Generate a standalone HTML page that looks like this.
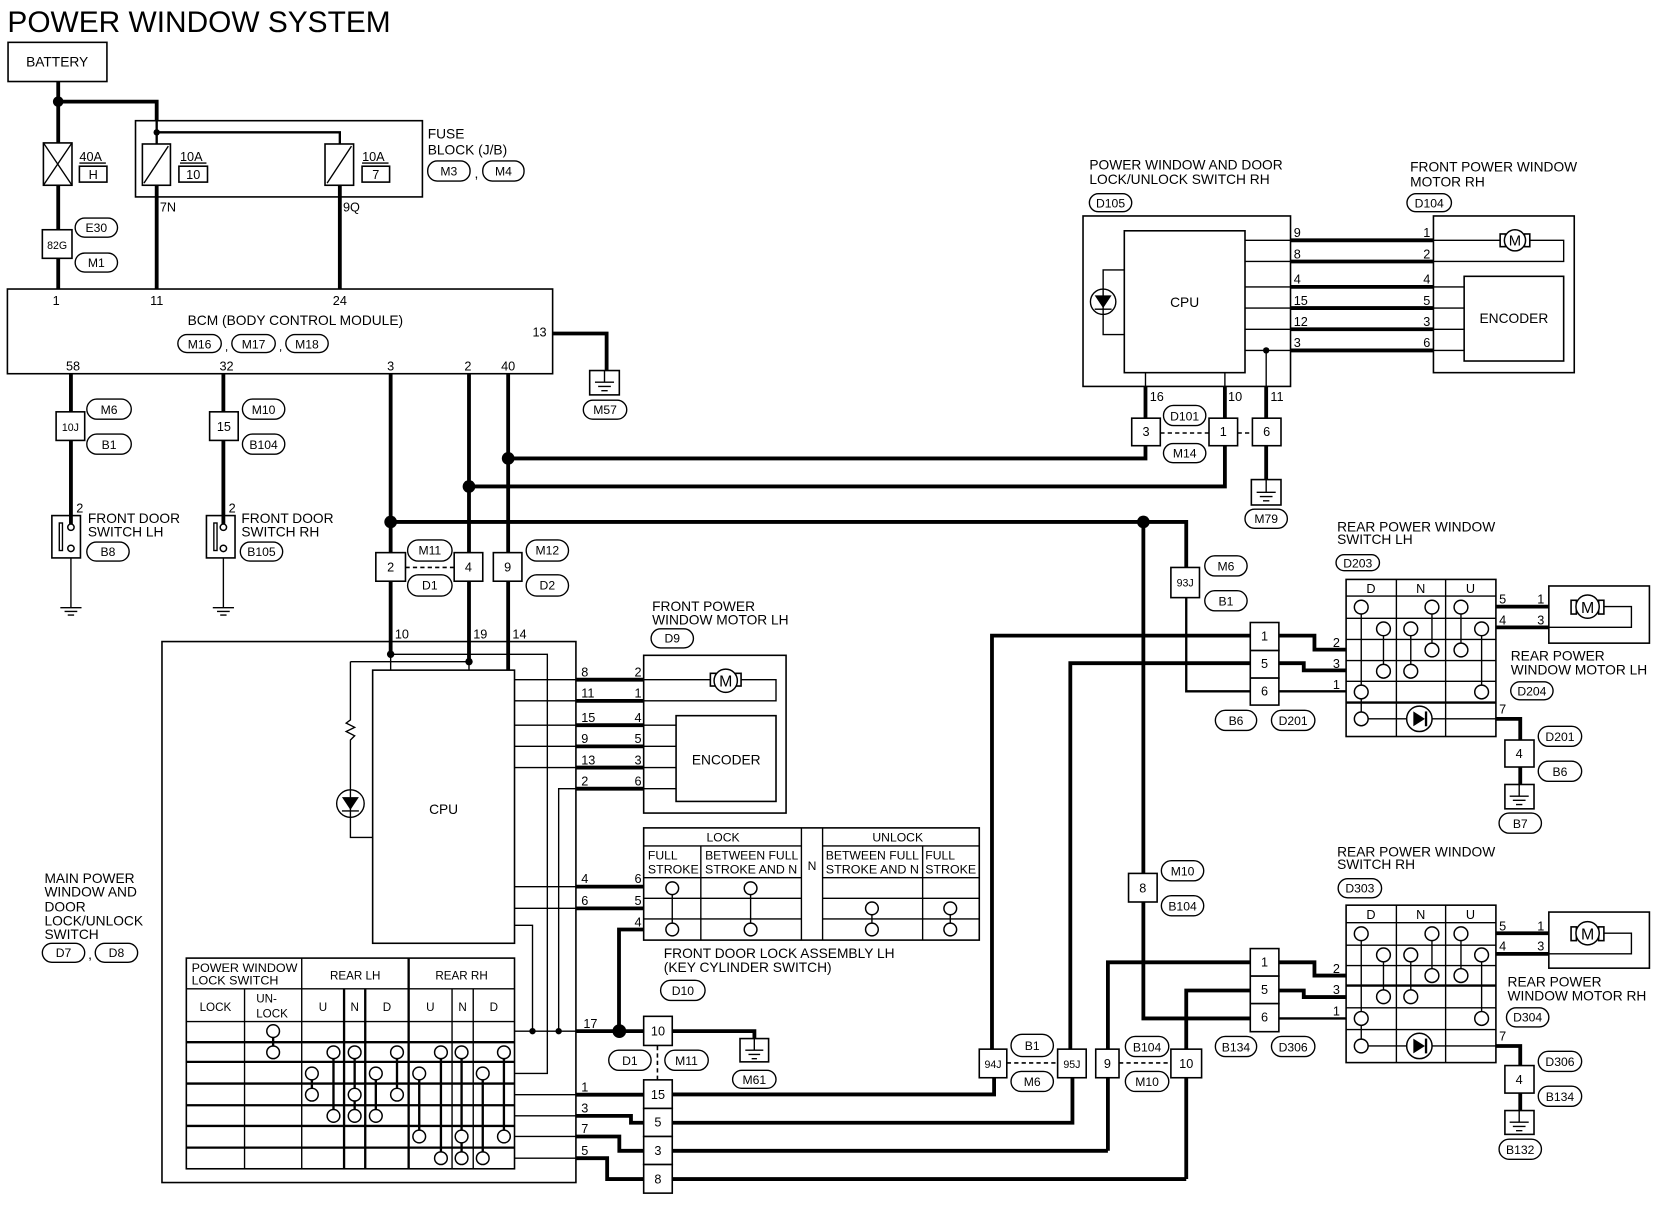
<!DOCTYPE html>
<html><head><meta charset="utf-8"><style>
html,body{margin:0;padding:0;background:#fff}
svg{display:block}
text{font-family:"Liberation Sans",Arial,sans-serif;fill:#000}
.k{stroke:#000;stroke-width:3.6;fill:none}
.m{stroke:#000;stroke-width:2.2;fill:none}
.t{stroke:#000;stroke-width:1.3;fill:none}
.b{stroke:#000;stroke-width:1.5;fill:#fff}
.bn{stroke:#000;stroke-width:1.5;fill:none}
.o{stroke:#000;stroke-width:1.3;fill:#fff}
.c{stroke:#000;stroke-width:1.4;fill:#fff}
.d{stroke:#000;stroke-width:1.5;fill:none;stroke-dasharray:4 3}
.s12{font-size:12px}.s11{font-size:11.5px}.s13{font-size:13px}
</style></head><body>
<svg width="1660" height="1216" viewBox="0 0 1568 1148.6" xmlns="http://www.w3.org/2000/svg">
<text x="7" y="30" font-size="28" textLength="362" lengthAdjust="spacingAndGlyphs">POWER WINDOW SYSTEM</text>

<!-- ===== wires ===== -->
<g class="k">
<polyline points="55,77 55,273"/>
<polyline points="55,96 148,96 148,114"/>
<polyline points="148,175 148,273"/>
<polyline points="321,175 321,273"/>
<polyline points="522,315 573,315 573,350"/>
<polyline points="67,353 67,487"/>
<polyline points="211,353 211,487"/>
<polyline points="369,353 369,618"/>
<polyline points="443,353 443,625"/>
<polyline points="480,353 480,633"/>
<polyline points="480,433 1082,433 1082,421"/>
<polyline points="443,459.5 1157,459.5 1157,421"/>
<polyline points="369,493 1120.5,493 1120.5,536"/>
<polyline points="1080,493 1080,962 1181,962"/>
<polyline points="1082,395 1082,365"/>
<polyline points="1157,395 1157,365"/>
<polyline points="1196,365 1196,395"/>
<polyline points="1196,421 1196,453"/>
<line x1="1219" y1="227" x2="1354" y2="227"/><line x1="1219" y1="247" x2="1354" y2="247"/>
<line x1="1219" y1="271" x2="1354" y2="271"/><line x1="1219" y1="291" x2="1354" y2="291"/>
<line x1="1219" y1="311" x2="1354" y2="311"/><line x1="1219" y1="331" x2="1354" y2="331"/>
<polyline points="937,991 937,600.4 1181,600.4"/>
<polyline points="1011,991 1011,626.4 1181,626.4"/>
<polyline points="1208,600.4 1241.6,600.4 1241.6,613.6 1271.5,613.6"/>
<polyline points="1208,626.4 1231.5,626.4 1231.5,633.2 1271.5,633.2"/>
<line x1="1413" y1="573" x2="1463" y2="573"/><line x1="1413" y1="592.6" x2="1463" y2="592.6"/>
<polyline points="1413,679 1436,679 1436,699"/><line x1="1436" y1="724.5" x2="1436" y2="741"/>
<polyline points="1046.5,1087 1046.5,909 1181,909"/>
<polyline points="1120.5,1113.7 1120.5,935.6 1181,935.6"/>
<polyline points="1208,909 1241.6,909 1241.6,921.5 1271.5,921.5"/>
<polyline points="1208,935.6 1231.5,935.6 1231.5,941.8 1271.5,941.8"/>
<line x1="1413" y1="881.5" x2="1463" y2="881.5"/><line x1="1413" y1="901" x2="1463" y2="901"/>
<polyline points="1413,988 1436,988 1436,1006.5"/><line x1="1436" y1="1032.5" x2="1436" y2="1049"/>
<polyline points="635,1033.8 939,1033.8 939,1018"/>
<polyline points="635,1060.5 1013,1060.5 1013,1018"/>
<line x1="635" y1="1087" x2="1046.5" y2="1087"/>
<line x1="635" y1="1113.7" x2="1120.5" y2="1113.7"/>
<polyline points="635,974 712.6,974 712.6,981"/>
<polyline points="608,878 584.7,878 584.7,974"/>
<line x1="544" y1="642" x2="608" y2="642"/><line x1="544" y1="662" x2="608" y2="662"/>
<line x1="544" y1="685" x2="608" y2="685"/><line x1="544" y1="705" x2="608" y2="705"/>
<line x1="544" y1="725" x2="608" y2="725"/><line x1="544" y1="745" x2="608" y2="745"/>
<line x1="544" y1="837.5" x2="608" y2="837.5"/><line x1="544" y1="858" x2="608" y2="858"/>
<line x1="544" y1="974" x2="608" y2="974"/>
<line x1="544" y1="1034" x2="608" y2="1034"/>
<polyline points="544,1054 596,1054 596,1060.5 608,1060.5"/>
<polyline points="544,1073.5 585,1073.5 585,1087 608,1087"/>
<polyline points="544,1094 573.5,1094 573.5,1113.7 608,1113.7"/>
</g>
<g class="m">
<polyline points="148,114 148,136"/>
<polyline points="148,125 321,125 321,136"/>
<polyline points="1120.5,564.5 1120.5,653 1181,653"/>
<line x1="1208" y1="653" x2="1271.5" y2="653"/>
<line x1="1208" y1="962" x2="1271.5" y2="962"/>
<polyline points="55,77 55,96"/>
</g>
<g class="t">
<line x1="67" y1="518" x2="67" y2="574"/><line x1="211" y1="518" x2="211" y2="574"/>
<line x1="1176" y1="227" x2="1219" y2="227"/><line x1="1176" y1="247" x2="1219" y2="247"/>
<line x1="1176" y1="271" x2="1219" y2="271"/><line x1="1176" y1="291" x2="1219" y2="291"/>
<line x1="1176" y1="311" x2="1219" y2="311"/><line x1="1176" y1="331" x2="1219" y2="331"/>
<line x1="1082" y1="352" x2="1082" y2="365"/><line x1="1157" y1="352" x2="1157" y2="365"/>
<line x1="1196" y1="331" x2="1196" y2="365"/>
<line x1="1354" y1="271" x2="1383" y2="271"/><line x1="1354" y1="291" x2="1383" y2="291"/>
<line x1="1354" y1="311" x2="1383" y2="311"/><line x1="1354" y1="331" x2="1383" y2="331"/>
<polyline points="1354,227 1420,227"/><polyline points="1442,227 1477,227 1477,247 1354,247"/>
<polyline points="369,618 517,618 517,1014 486,1014"/>
<polyline points="331,625 443,625"/>
<polyline points="331,625 331,680 327,683 335,687 327,691 335,695 331,699 331,746"/>
<polyline points="331,772 331,791 352,791"/>
<line x1="369" y1="618" x2="369" y2="633"/><line x1="443" y1="625" x2="443" y2="633"/>
<line x1="486" y1="642" x2="544" y2="642"/><line x1="486" y1="662" x2="544" y2="662"/>
<line x1="486" y1="685" x2="544" y2="685"/><line x1="486" y1="705" x2="544" y2="705"/>
<line x1="486" y1="725" x2="544" y2="725"/>
<polyline points="544,745 527.7,745 527.7,974"/>
<polyline points="486,874 503,874 503,974"/>
<line x1="486" y1="837.5" x2="544" y2="837.5"/><line x1="486" y1="858" x2="544" y2="858"/>
<line x1="486" y1="974" x2="544" y2="974"/>
<line x1="486" y1="1034" x2="544" y2="1034"/><line x1="486" y1="1054" x2="544" y2="1054"/>
<line x1="486" y1="1073.5" x2="544" y2="1073.5"/><line x1="486" y1="1094" x2="544" y2="1094"/>
<polyline points="608,642 674,642"/><polyline points="697,642 733,642 733,662 608,662"/>
<line x1="608" y1="685" x2="638.6" y2="685"/><line x1="608" y1="705" x2="638.6" y2="705"/>
<line x1="608" y1="725" x2="638.6" y2="725"/><line x1="608" y1="745" x2="638.6" y2="745"/>
<polyline points="1488,573 1541,573 1541,592.6 1463,592.6"/>
<polyline points="1488,881.5 1541,881.5 1541,901 1463,901"/>
</g>
<g class="d">
<line x1="1096" y1="409" x2="1142" y2="409"/><line x1="1169" y1="409" x2="1183" y2="409"/>
<line x1="383" y1="536" x2="429" y2="536"/>
<line x1="951" y1="1004" x2="999" y2="1004"/><line x1="1057" y1="1004" x2="1106" y2="1004"/>
<line x1="621" y1="988" x2="621" y2="1020"/>
</g>

<!-- dots -->
<g fill="#000">
<circle cx="55" cy="96" r="5"/><circle cx="148" cy="125" r="3"/>
<circle cx="480" cy="433" r="6"/><circle cx="443" cy="459.5" r="6"/>
<circle cx="369" cy="493" r="6"/><circle cx="1080" cy="493" r="6"/>
<circle cx="1196" cy="331" r="3"/><circle cx="369" cy="618" r="3.5"/><circle cx="443" cy="625" r="3.5"/>
<circle cx="503" cy="974" r="3"/><circle cx="527.7" cy="974" r="3"/><circle cx="585" cy="974" r="6.5"/>
</g>

<!-- ===== boxes ===== -->
<rect class="b" x="7.6" y="40" width="93.4" height="37"/>
<text class="s13" x="54" y="63" text-anchor="middle">BATTERY</text>
<rect class="bn" x="128" y="114" width="271" height="72"/>
<rect class="b" x="41" y="135" width="27" height="40"/><path class="t" d="M41,135 L68,175 M68,135 L41,175"/>
<rect class="b" x="134.5" y="136" width="26.5" height="39"/><path class="t" d="M136,173 L159,138"/>
<rect class="b" x="307" y="136" width="27" height="39"/><path class="t" d="M309,173 L332,138"/>
<text class="s12" x="75" y="152">40A</text><line class="t" x1="75" y1="154" x2="100" y2="154"/>
<rect class="bn" x="75" y="157" width="26" height="15"/><text class="s12" x="88" y="169" text-anchor="middle">H</text>
<text class="s12" x="170" y="152">10A</text><line class="t" x1="170" y1="154" x2="195" y2="154"/>
<rect class="bn" x="169" y="157" width="27" height="15"/><text class="s12" x="182.5" y="169" text-anchor="middle">10</text>
<text class="s12" x="342" y="152">10A</text><line class="t" x1="342" y1="154" x2="367" y2="154"/>
<rect class="bn" x="342" y="157" width="26" height="15"/><text class="s12" x="355" y="169" text-anchor="middle">7</text>
<text class="s12" x="151" y="200">7N</text><text class="s12" x="324" y="200">9Q</text>
<text class="s13" x="404" y="131">FUSE</text><text class="s13" x="404" y="146">BLOCK (J/B)</text>

<rect class="bn" x="7" y="273" width="515" height="80"/>
<text class="s12" x="53" y="288" text-anchor="middle">1</text><text class="s12" x="148" y="288" text-anchor="middle">11</text><text class="s12" x="321" y="288" text-anchor="middle">24</text>
<text class="s13" x="279" y="307" text-anchor="middle">BCM (BODY CONTROL MODULE)</text>
<text class="s12" x="503" y="318">13</text>
<text class="s12" x="69" y="350" text-anchor="middle">58</text><text class="s12" x="214" y="350" text-anchor="middle">32</text>
<text class="s12" x="369" y="350" text-anchor="middle">3</text><text class="s12" x="442" y="350" text-anchor="middle">2</text><text class="s12" x="480" y="350" text-anchor="middle">40</text>

<g class="s12" text-anchor="middle">
<rect class="b" x="40" y="217" width="28" height="27"/><text x="54" y="235" font-size="10">82G</text>
<rect class="b" x="53" y="389" width="27" height="27"/><text x="66.5" y="407" font-size="10">10J</text>
<rect class="b" x="198" y="389" width="27" height="27"/><text x="211.5" y="407">15</text>
<rect class="b" x="355" y="522" width="28" height="27"/><text x="369" y="540">2</text>
<rect class="b" x="429" y="522" width="27" height="27"/><text x="442.5" y="540">4</text>
<rect class="b" x="466" y="522" width="27" height="27"/><text x="479.5" y="540">9</text>
<rect class="b" x="1069" y="395" width="27" height="26"/><text x="1082.5" y="412">3</text>
<rect class="b" x="1142" y="395" width="27" height="26"/><text x="1155.5" y="412">1</text>
<rect class="b" x="1183" y="395" width="27" height="26"/><text x="1196.5" y="412">6</text>
<rect class="b" x="1106" y="536" width="27" height="28.5"/><text x="1119.5" y="554" font-size="10">93J</text>
<rect class="b" x="1181" y="588" width="27" height="26.5"/><text x="1194.5" y="605">1</text>
<rect class="b" x="1181" y="614.5" width="27" height="26"/><text x="1194.5" y="631">5</text>
<rect class="b" x="1181" y="640.5" width="27" height="25.5"/><text x="1194.5" y="657">6</text>
<rect class="b" x="1421.5" y="699" width="27.5" height="25.5"/><text x="1435" y="716">4</text>
<rect class="b" x="1066" y="825" width="27" height="27"/><text x="1079.5" y="843">8</text>
<rect class="b" x="1181" y="896" width="27" height="26"/><text x="1194.5" y="913">1</text>
<rect class="b" x="1181" y="922" width="27" height="26"/><text x="1194.5" y="939">5</text>
<rect class="b" x="1181" y="948" width="27" height="26.5"/><text x="1194.5" y="965">6</text>
<rect class="b" x="1421.5" y="1006.5" width="27.5" height="26"/><text x="1435" y="1024">4</text>
<rect class="b" x="608" y="960" width="27" height="27.5"/><text x="621.5" y="978">10</text>
<rect class="b" x="608" y="1020" width="27" height="27"/><text x="621.5" y="1038">15</text>
<rect class="b" x="608" y="1047" width="27" height="26.5"/><text x="621.5" y="1064">5</text>
<rect class="b" x="608" y="1073.5" width="27" height="26.5"/><text x="621.5" y="1091">3</text>
<rect class="b" x="608" y="1100" width="27" height="27"/><text x="621.5" y="1118">8</text>
<rect class="b" x="925" y="991" width="26" height="27"/><text x="938" y="1009" font-size="10">94J</text>
<rect class="b" x="999" y="991" width="27" height="27"/><text x="1012.5" y="1009" font-size="10">95J</text>
<rect class="b" x="1035" y="991" width="22" height="27"/><text x="1046" y="1009">9</text>
<rect class="b" x="1106" y="991" width="29" height="27"/><text x="1120.5" y="1009">10</text>
</g>

<g class="s11" text-anchor="middle">
<rect class="o" x="71" y="206" width="40" height="18" rx="9"/><text x="91" y="219">E30</text>
<rect class="o" x="71" y="239" width="40" height="18" rx="9"/><text x="91" y="252">M1</text>
<rect class="o" x="404" y="152" width="40" height="19" rx="9"/><text x="424" y="166">M3</text>
<text class="s13" x="450" y="168">,</text>
<rect class="o" x="456" y="152" width="39" height="19" rx="9"/><text x="475.5" y="166">M4</text>
<rect class="o" x="168" y="316" width="41" height="17" rx="8.5"/><text x="188.5" y="329">M16</text>
<text x="214" y="331">,</text>
<rect class="o" x="219" y="316" width="41" height="17" rx="8.5"/><text x="239.5" y="329">M17</text>
<text x="265" y="331">,</text>
<rect class="o" x="270" y="316" width="40" height="17" rx="8.5"/><text x="290" y="329">M18</text>
<rect class="o" x="551" y="378" width="41" height="18" rx="9"/><text x="571.5" y="391">M57</text>
<rect class="o" x="82" y="377" width="42" height="19" rx="9.5"/><text x="103" y="391">M6</text>
<rect class="o" x="82" y="410" width="42" height="19" rx="9.5"/><text x="103" y="424">B1</text>
<rect class="o" x="229" y="377" width="40" height="19" rx="9.5"/><text x="249" y="391">M10</text>
<rect class="o" x="229" y="410" width="40" height="19" rx="9.5"/><text x="249" y="424">B104</text>
<rect class="o" x="82" y="512" width="40" height="18" rx="9"/><text x="102" y="525">B8</text>
<rect class="o" x="227" y="512" width="40" height="18" rx="9"/><text x="247" y="525">B105</text>
<rect class="o" x="385" y="510" width="42" height="20" rx="10"/><text x="406" y="524">M11</text>
<rect class="o" x="385" y="543" width="42" height="20" rx="10"/><text x="406" y="557">D1</text>
<rect class="o" x="497" y="510" width="40" height="20" rx="10"/><text x="517" y="524">M12</text>
<rect class="o" x="497" y="543" width="40" height="20" rx="10"/><text x="517" y="557">D2</text>
<rect class="o" x="615" y="594" width="40" height="18" rx="9"/><text x="635" y="607">D9</text>
<rect class="o" x="40" y="891" width="40" height="18" rx="9"/><text x="60" y="904">D7</text>
<text class="s13" x="85" y="906">,</text>
<rect class="o" x="90" y="891" width="40" height="18" rx="9"/><text x="110" y="904">D8</text>
<rect class="o" x="624" y="926" width="42" height="19" rx="9.5"/><text x="645" y="940">D10</text>
<rect class="o" x="575" y="992" width="40" height="19" rx="9.5"/><text x="595" y="1006">D1</text>
<rect class="o" x="628" y="992" width="41" height="19" rx="9.5"/><text x="648.5" y="1006">M11</text>
<rect class="o" x="692" y="1011" width="41" height="17" rx="8.5"/><text x="712.5" y="1024">M61</text>
<rect class="o" x="955" y="977" width="40" height="21" rx="10.5"/><text x="975" y="992">B1</text>
<rect class="o" x="955" y="1012" width="40" height="19" rx="9.5"/><text x="975" y="1026">M6</text>
<rect class="o" x="1063" y="979" width="41" height="19" rx="9.5"/><text x="1083.5" y="993">B104</text>
<rect class="o" x="1063" y="1012" width="41" height="19" rx="9.5"/><text x="1083.5" y="1026">M10</text>
<rect class="o" x="1029" y="183" width="40" height="17" rx="8.5"/><text x="1049" y="196">D105</text>
<rect class="o" x="1329" y="183" width="42" height="17" rx="8.5"/><text x="1350" y="196">D104</text>
<rect class="o" x="1099" y="383" width="40" height="19" rx="9.5"/><text x="1119" y="397">D101</text>
<rect class="o" x="1099" y="419" width="40" height="18" rx="9"/><text x="1119" y="432">M14</text>
<rect class="o" x="1176" y="481" width="40" height="18" rx="9"/><text x="1196" y="494">M79</text>
<rect class="o" x="1138" y="525" width="40" height="19" rx="9.5"/><text x="1158" y="539">M6</text>
<rect class="o" x="1138" y="558" width="40" height="19" rx="9.5"/><text x="1158" y="572">B1</text>
<rect class="o" x="1262" y="524" width="41" height="15" rx="7.5"/><text x="1282.5" y="536">D203</text>
<rect class="o" x="1148" y="671" width="39" height="19" rx="9.5"/><text x="1167.5" y="685">B6</text>
<rect class="o" x="1201" y="671" width="41" height="19" rx="9.5"/><text x="1221.5" y="685">D201</text>
<rect class="o" x="1427" y="644" width="40" height="17" rx="8.5"/><text x="1447" y="657">D204</text>
<rect class="o" x="1453" y="686" width="41" height="19" rx="9.5"/><text x="1473.5" y="700">D201</text>
<rect class="o" x="1453" y="719" width="41" height="19" rx="9.5"/><text x="1473.5" y="733">B6</text>
<rect class="o" x="1416" y="768" width="40" height="19" rx="9.5"/><text x="1436" y="782">B7</text>
<rect class="o" x="1097" y="813" width="40" height="19" rx="9.5"/><text x="1117" y="827">M10</text>
<rect class="o" x="1097" y="846" width="40" height="19" rx="9.5"/><text x="1117" y="860">B104</text>
<rect class="o" x="1264" y="830" width="41" height="18" rx="9"/><text x="1284.5" y="843">D303</text>
<rect class="o" x="1148" y="979" width="39" height="19" rx="9.5"/><text x="1167.5" y="993">B134</text>
<rect class="o" x="1201" y="979" width="41" height="19" rx="9.5"/><text x="1221.5" y="993">D306</text>
<rect class="o" x="1423" y="952" width="40" height="18" rx="9"/><text x="1443" y="965">D304</text>
<rect class="o" x="1453" y="993" width="41" height="19" rx="9.5"/><text x="1473.5" y="1007">D306</text>
<rect class="o" x="1453" y="1026" width="41" height="19" rx="9.5"/><text x="1473.5" y="1040">B134</text>
<rect class="o" x="1416" y="1076" width="40" height="19" rx="9.5"/><text x="1436" y="1090">B132</text>
</g>

<g>
<rect class="bn" x="557" y="350" width="28" height="23"/><path class="t" d="M571,350 V361 M562,361 H580 M565,365 H577 M568,369 H574"/>
<rect class="bn" x="1182" y="453" width="28" height="24"/><path class="t" d="M1196,453 V465 M1187,465 H1205 M1190,469 H1202 M1193,473 H1199"/>
<rect class="bn" x="699" y="981" width="27" height="22"/><path class="t" d="M712.5,981 V992 M704,992 H721 M707,996 H718 M710,1000 H715"/>
<rect class="bn" x="1421.5" y="741" width="27.5" height="23"/><path class="t" d="M1435,741 V752 M1426,752 H1444 M1429,756 H1441 M1432,760 H1438"/>
<rect class="bn" x="1421.5" y="1049" width="27.5" height="22.5"/><path class="t" d="M1435,1049 V1060 M1426,1060 H1444 M1429,1064 H1441 M1432,1068 H1438"/>
<path class="t" d="M57,574 H77 M61,577.5 H73 M64,581 H70"/>
<path class="t" d="M201,574 H221 M205,577.5 H217 M208,581 H214"/>
</g>

<rect class="b" x="49" y="487" width="27" height="40"/>
<rect class="t" x="56" y="494" width="3" height="26"/>
<circle class="c" cx="67" cy="498" r="3"/><circle class="c" cx="67" cy="518" r="3"/>
<line class="k" x1="67" y1="487" x2="67" y2="495"/>
<text class="s12" x="72" y="484">2</text>
<text class="s13" x="83" y="494">FRONT DOOR</text><text class="s13" x="83" y="507">SWITCH LH</text>
<rect class="b" x="195" y="487" width="27" height="40"/>
<rect class="t" x="202" y="494" width="3" height="26"/>
<circle class="c" cx="211" cy="498" r="3"/><circle class="c" cx="211" cy="518" r="3"/>
<line class="k" x1="211" y1="487" x2="211" y2="495"/>
<text class="s12" x="216" y="484">2</text>
<text class="s13" x="228" y="494">FRONT DOOR</text><text class="s13" x="228" y="507">SWITCH RH</text>

<text class="s13" x="1029" y="160">POWER WINDOW AND DOOR</text>
<text class="s13" x="1029" y="174">LOCK/UNLOCK SWITCH RH</text>
<text class="s13" x="1332" y="162">FRONT POWER WINDOW</text>
<text class="s13" x="1332" y="176">MOTOR RH</text>
<rect class="bn" x="1023" y="204" width="196" height="161"/>
<rect class="b" x="1062" y="218" width="114" height="134"/>
<text class="s13" x="1119" y="290" text-anchor="middle">CPU</text>
<polyline class="t" points="1062,255 1042,255 1042,316 1062,316"/>
<circle class="t" cx="1042" cy="285" r="12"/>
<path d="M1034,279 L1050,279 L1042,291 Z" fill="#000"/><line class="t" x1="1034" y1="292" x2="1050" y2="292"/>
<g class="s12">
<text x="1222" y="224">9</text><text x="1222" y="244">8</text><text x="1222" y="268">4</text>
<text x="1222" y="288">15</text><text x="1222" y="308">12</text><text x="1222" y="328">3</text>
<text x="1351" y="224" text-anchor="end">1</text><text x="1351" y="244" text-anchor="end">2</text>
<text x="1351" y="268" text-anchor="end">4</text><text x="1351" y="288" text-anchor="end">5</text>
<text x="1351" y="308" text-anchor="end">3</text><text x="1351" y="328" text-anchor="end">6</text>
<text x="1086" y="379">16</text><text x="1160" y="379">10</text><text x="1200" y="379">11</text>
</g>
<rect class="bn" x="1354" y="204" width="133" height="148"/>
<rect class="b" x="1383" y="261" width="94" height="80"/>
<text class="s13" x="1430" y="305" text-anchor="middle">ENCODER</text>
<rect class="b" x="1417" y="221" width="5" height="12"/><rect class="b" x="1440" y="221" width="5" height="12"/>
<circle class="c" cx="1431" cy="227" r="10"/><text x="1431" y="232" font-size="14" text-anchor="middle">M</text>

<rect class="bn" x="153" y="606" width="391" height="511"/>
<g class="s12"><text x="373" y="603">10</text><text x="447" y="603">19</text><text x="484" y="603">14</text></g>
<rect class="b" x="352" y="633" width="134" height="258"/>
<text class="s13" x="419" y="769" text-anchor="middle">CPU</text>
<circle class="t" cx="331" cy="759" r="13" fill="#fff"/>
<path d="M323,753 L339,753 L331,765 Z" fill="#000"/><line class="t" x1="323" y1="766" x2="339" y2="766"/><line class="t" x1="331" y1="746" x2="331" y2="772"/>
<g class="s13"><text x="42" y="834">MAIN POWER</text><text x="42" y="847">WINDOW AND</text><text x="42" y="861">DOOR</text><text x="42" y="874">LOCK/UNLOCK</text><text x="42" y="887">SWITCH</text></g>

<g>
<rect class="b" x="176" y="905" width="310" height="199"/>
<path class="t" d="M176,934 H486 M176,965 H486 M231,934 V1104 M285,905 V1104 M427,934 V1104 M447,934 V1104"/>
<path class="m" d="M176,984.4 H486 M176,1003 H486 M176,1023.5 H486 M176,1044 H486 M176,1063.5 H486 M176,1084 H486 M325,934 V1104 M345,934 V1104 M386,905 V1104"/>
<g font-size="11">
<text x="181" y="918" textLength="100" lengthAdjust="spacingAndGlyphs">POWER WINDOW</text>
<text x="181" y="930" textLength="82" lengthAdjust="spacingAndGlyphs">LOCK SWITCH</text>
<text x="335.5" y="925" text-anchor="middle">REAR LH</text><text x="436" y="925" text-anchor="middle">REAR RH</text>
<text x="203.5" y="955" text-anchor="middle">LOCK</text><text x="242" y="947">UN-</text><text x="242" y="961">LOCK</text>
<text x="305" y="955" text-anchor="middle">U</text><text x="335" y="955" text-anchor="middle">N</text><text x="365.5" y="955" text-anchor="middle">D</text>
<text x="406.5" y="955" text-anchor="middle">U</text><text x="437" y="955" text-anchor="middle">N</text><text x="466.5" y="955" text-anchor="middle">D</text>
</g>
<path class="m" d="M258,974 V994 M294.6,1014 V1034 M315,994 V1054 M335,994 V1054 M355,1014 V1054 M375,994 V1034 M396,1014 V1073.5 M416.5,994 V1094 M436,994 V1094 M456,1014 V1094 M476,994 V1073.5"/>
<g class="c">
<circle cx="258" cy="974" r="6"/><circle cx="258" cy="994" r="6"/>
<circle cx="294.6" cy="1014" r="6"/><circle cx="294.6" cy="1034" r="6"/>
<circle cx="315" cy="994" r="6"/><circle cx="315" cy="1054" r="6"/>
<circle cx="335" cy="994" r="6"/><circle cx="335" cy="1034" r="6"/><circle cx="335" cy="1054" r="6"/>
<circle cx="355" cy="1014" r="6"/><circle cx="355" cy="1054" r="6"/>
<circle cx="375" cy="994" r="6"/><circle cx="375" cy="1034" r="6"/>
<circle cx="396" cy="1014" r="6"/><circle cx="396" cy="1073.5" r="6"/>
<circle cx="416.5" cy="994" r="6"/><circle cx="416.5" cy="1094" r="6"/>
<circle cx="436" cy="994" r="6"/><circle cx="436" cy="1073.5" r="6"/><circle cx="436" cy="1094" r="6"/>
<circle cx="456" cy="1014" r="6"/><circle cx="456" cy="1094" r="6"/>
<circle cx="476" cy="994" r="6"/><circle cx="476" cy="1073.5" r="6"/>
</g>
</g>
<g class="s12">
<text x="549" y="639">8</text><text x="606" y="639" text-anchor="end">2</text>
<text x="549" y="659">11</text><text x="606" y="659" text-anchor="end">1</text>
<text x="549" y="682">15</text><text x="606" y="682" text-anchor="end">4</text>
<text x="549" y="702">9</text><text x="606" y="702" text-anchor="end">5</text>
<text x="549" y="722">13</text><text x="606" y="722" text-anchor="end">3</text>
<text x="549" y="742">2</text><text x="606" y="742" text-anchor="end">6</text>
<text x="549" y="834">4</text><text x="606" y="834" text-anchor="end">6</text>
<text x="549" y="855">6</text><text x="606" y="855" text-anchor="end">5</text>
<text x="606" y="875" text-anchor="end">4</text>
<text x="551" y="971">17</text>
<text x="549" y="1031">1</text><text x="549" y="1051">3</text><text x="549" y="1070">7</text><text x="549" y="1091">5</text>
</g>

<text class="s13" x="616" y="577">FRONT POWER</text><text class="s13" x="616" y="590">WINDOW MOTOR LH</text>
<rect class="bn" x="608" y="619" width="134.5" height="149"/>
<rect class="b" x="638.6" y="676" width="94.4" height="81"/>
<text class="s13" x="686" y="722" text-anchor="middle">ENCODER</text>
<rect class="b" x="671" y="636" width="5" height="12"/><rect class="b" x="695" y="636" width="5" height="12"/>
<circle class="c" cx="685.5" cy="643" r="11"/><text x="685.5" y="648.5" font-size="15" text-anchor="middle">M</text>

<rect class="b" x="608" y="782" width="317" height="106"/>
<path class="t" d="M608,799 H757 M777,799 H925 M608,829 H757 M777,829 H925 M608,848.5 H757 M777,848.5 H925 M608,868 H757 M777,868 H925 M662,799 V888 M757,782 V888 M777,782 V888 M871.5,799 V888"/>
<g font-size="11.5">
<text x="683" y="795" text-anchor="middle">LOCK</text><text x="848" y="795" text-anchor="middle">UNLOCK</text>
<text x="767" y="822" text-anchor="middle">N</text>
<text x="612" y="812">FULL</text><text x="612" y="825" textLength="48" lengthAdjust="spacingAndGlyphs">STROKE</text>
<text x="666" y="812" textLength="88" lengthAdjust="spacingAndGlyphs">BETWEEN FULL</text><text x="666" y="825" textLength="87" lengthAdjust="spacingAndGlyphs">STROKE AND N</text>
<text x="780" y="812" textLength="88" lengthAdjust="spacingAndGlyphs">BETWEEN FULL</text><text x="780" y="825" textLength="88" lengthAdjust="spacingAndGlyphs">STROKE AND N</text>
<text x="874" y="812">FULL</text><text x="874" y="825" textLength="48" lengthAdjust="spacingAndGlyphs">STROKE</text>
</g>
<path class="t" d="M635,839 V878 M709,839 V878 M823.6,858 V878 M897.6,858 V878"/>
<g class="c"><circle cx="635" cy="839" r="6"/><circle cx="635" cy="878" r="6"/><circle cx="709" cy="839" r="6"/><circle cx="709" cy="878" r="6"/>
<circle cx="823.6" cy="858" r="6"/><circle cx="823.6" cy="878" r="6"/><circle cx="897.6" cy="858" r="6"/><circle cx="897.6" cy="878" r="6"/></g>
<text class="s13" x="627" y="905">FRONT DOOR LOCK ASSEMBLY LH</text>
<text class="s13" x="627" y="918">(KEY CYLINDER SWITCH)</text>

<text class="s13" x="1263" y="502">REAR POWER WINDOW</text><text class="s13" x="1263" y="514">SWITCH LH</text>
<rect class="b" x="1271.5" y="547.3" width="141.5" height="148.4"/>
<path class="t" d="M1271.5,563 H1413 M1271.5,584 H1413 M1271.5,604 H1413 M1271.5,624 H1413 M1271.5,643.6 H1413 M1319,547.3 V695.7 M1365.5,547.3 V695.7"/>
<line class="m" x1="1271.5" y1="663.6" x2="1413" y2="663.6"/>
<g font-size="12" text-anchor="middle"><text x="1295" y="560">D</text><text x="1342" y="560">N</text><text x="1389" y="560">U</text></g>
<path class="t" d="M1285.8,573.5 V679 M1306.8,594 V634 M1332.6,594 V634 M1352.6,573.5 V614 M1380,573.5 V614 M1399.5,594 V653.6 M1285.8,679 H1413"/>
<g class="c"><circle cx="1285.8" cy="573.5" r="6.5"/><circle cx="1285.8" cy="653.6" r="6.5"/><circle cx="1285.8" cy="679" r="6.5"/>
<circle cx="1306.8" cy="594" r="6.5"/><circle cx="1306.8" cy="634" r="6.5"/><circle cx="1332.6" cy="594" r="6.5"/><circle cx="1332.6" cy="634" r="6.5"/>
<circle cx="1352.6" cy="573.5" r="6.5"/><circle cx="1352.6" cy="614" r="6.5"/><circle cx="1380" cy="573.5" r="6.5"/><circle cx="1380" cy="614" r="6.5"/>
<circle cx="1399.5" cy="594" r="6.5"/><circle cx="1399.5" cy="653.6" r="6.5"/><circle cx="1340.7" cy="679" r="12"/></g>
<path d="M1335,672 L1335,686 L1346,679 Z" fill="#000"/><line class="m" x1="1347" y1="672" x2="1347" y2="686"/>
<g class="s12"><text x="1259" y="611">2</text><text x="1259" y="631">3</text><text x="1259" y="651">1</text>
<text x="1416" y="570">5</text><text x="1416" y="590">4</text><text x="1416" y="674">7</text>
<text x="1452" y="570">1</text><text x="1452" y="590">3</text></g>
<rect class="bn" x="1463" y="553.5" width="95" height="54"/>
<rect class="b" x="1484" y="567" width="5" height="13"/><rect class="b" x="1510" y="567" width="5" height="13"/>
<circle class="c" cx="1499.6" cy="573" r="11"/><text x="1499.6" y="579" font-size="15" text-anchor="middle">M</text>
<text class="s13" x="1427" y="624">REAR POWER</text><text class="s13" x="1427" y="637">WINDOW MOTOR LH</text>

<text class="s13" x="1263" y="809">REAR POWER WINDOW</text><text class="s13" x="1263" y="821">SWITCH RH</text>
<rect class="b" x="1271.5" y="855" width="141.5" height="148.7"/>
<path class="t" d="M1271.5,871.5 H1413 M1271.5,892.8 H1413 M1271.5,912 H1413 M1271.5,952 H1413 M1271.5,972.5 H1413 M1319,855 V1003.7 M1365.5,855 V1003.7"/>
<line class="m" x1="1271.5" y1="930.9" x2="1413" y2="930.9"/>
<g font-size="12" text-anchor="middle"><text x="1295" y="868">D</text><text x="1342" y="868">N</text><text x="1389" y="868">U</text></g>
<path class="t" d="M1285.8,882 V988 M1306.8,902 V941.5 M1332.6,902 V941.5 M1352.6,882 V921.5 M1380,882 V921.5 M1399.5,902 V962 M1285.8,988 H1413"/>
<g class="c"><circle cx="1285.8" cy="882" r="6.5"/><circle cx="1285.8" cy="962" r="6.5"/><circle cx="1285.8" cy="988" r="6.5"/>
<circle cx="1306.8" cy="902" r="6.5"/><circle cx="1306.8" cy="941.5" r="6.5"/><circle cx="1332.6" cy="902" r="6.5"/><circle cx="1332.6" cy="941.5" r="6.5"/>
<circle cx="1352.6" cy="882" r="6.5"/><circle cx="1352.6" cy="921.5" r="6.5"/><circle cx="1380" cy="882" r="6.5"/><circle cx="1380" cy="921.5" r="6.5"/>
<circle cx="1399.5" cy="902" r="6.5"/><circle cx="1399.5" cy="962" r="6.5"/><circle cx="1340.7" cy="988" r="12"/></g>
<path d="M1335,981 L1335,995 L1346,988 Z" fill="#000"/><line class="m" x1="1347" y1="981" x2="1347" y2="995"/>
<g class="s12"><text x="1259" y="919">2</text><text x="1259" y="939">3</text><text x="1259" y="959">1</text>
<text x="1416" y="879">5</text><text x="1416" y="898">4</text><text x="1416" y="983">7</text>
<text x="1452" y="879">1</text><text x="1452" y="898">3</text></g>
<rect class="bn" x="1463" y="861.5" width="95" height="53"/>
<rect class="b" x="1484" y="875.5" width="5" height="13"/><rect class="b" x="1510" y="875.5" width="5" height="13"/>
<circle class="c" cx="1499.6" cy="881.5" r="11"/><text x="1499.6" y="887.5" font-size="15" text-anchor="middle">M</text>
<text class="s13" x="1424" y="932">REAR POWER</text><text class="s13" x="1424" y="945">WINDOW MOTOR RH</text>
</svg>
</body></html>
